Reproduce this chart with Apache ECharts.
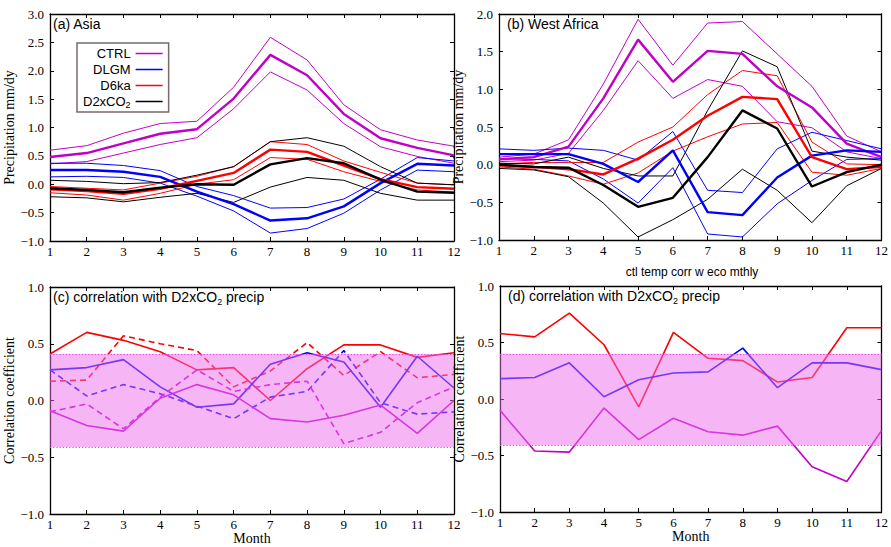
<!DOCTYPE html>
<html>
<head>
<meta charset="utf-8">
<script src="https://cdn.jsdelivr.net/npm/echarts@6/dist/echarts.min.js"></script>
<style>html,body{margin:0;padding:0;background:#fff;}#c{width:891px;height:547px;}</style>
</head>
<body>
<div id="c"></div>
<script>
const months = ['1','2','3','4','5','6','7','8','9','10','11','12'];

// (a) Asia
const asiaCtrl   = [0.48, 0.55, 0.72, 0.89, 0.97, 1.51, 2.28, 1.92, 1.24, 0.81, 0.64, 0.51];
const asiaCtrlHi = [0.60, 0.68, 0.90, 1.07, 1.11, 1.71, 2.59, 2.19, 1.40, 0.96, 0.78, 0.67];
const asiaCtrlLo = [0.36, 0.40, 0.55, 0.70, 0.82, 1.33, 1.98, 1.66, 1.07, 0.66, 0.49, 0.37];
const asiaDlgm   = [0.25, 0.25, 0.22, 0.13, -0.13, -0.35, -0.64, -0.60, -0.39, 0.02, 0.36, 0.33];
const asiaDlgmHi = [0.37, 0.37, 0.33, 0.24, -0.04, -0.20, -0.42, -0.41, -0.26, 0.09, 0.47, 0.41];
const asiaDlgmLo = [0.13, 0.14, 0.12, 0.02, -0.21, -0.47, -0.86, -0.78, -0.51, -0.10, 0.25, 0.22];
const asiaD6ka   = [-0.09, -0.12, -0.17, -0.08, 0.06, 0.20, 0.61, 0.57, 0.33, 0.09, -0.05, -0.08];
const asiaD6kaHi = [-0.04, -0.07, -0.10, 0.02, 0.14, 0.31, 0.75, 0.70, 0.41, 0.21, 0.02, -0.01];
const asiaD6kaLo = [-0.15, -0.19, -0.28, -0.16, 0.00, 0.08, 0.47, 0.44, 0.22, 0.05, -0.10, -0.14];
const asiaCo2    = [-0.07, -0.10, -0.14, -0.06, 0.00, -0.01, 0.35, 0.46, 0.37, 0.08, -0.13, -0.15];
const asiaCo2Hi  = [0.07, 0.05, 0.01, 0.03, 0.16, 0.31, 0.75, 0.82, 0.67, 0.31, 0.02, -0.01];
const asiaCo2Lo  = [-0.22, -0.24, -0.31, -0.23, -0.16, -0.32, -0.05, 0.12, 0.07, -0.16, -0.28, -0.28];

// (b) West Africa
const waCtrl   = [0.07, 0.10, 0.24, 0.88, 1.66, 1.10, 1.51, 1.47, 1.04, 0.76, 0.28, 0.10];
const waCtrlHi = [0.10, 0.14, 0.33, 1.07, 1.93, 1.32, 1.88, 1.90, 1.47, 1.04, 0.38, 0.17];
const waCtrlLo = [0.04, 0.06, 0.15, 0.72, 1.38, 0.88, 1.13, 1.04, 0.57, 0.49, 0.17, 0.08];
const waDlgm   = [0.14, 0.14, 0.14, 0.01, -0.23, 0.19, -0.63, -0.67, -0.17, 0.12, 0.19, 0.17];
const waDlgmHi = [0.21, 0.19, 0.22, 0.19, 0.06, 0.44, -0.34, -0.37, 0.21, 0.43, 0.32, 0.21];
const waDlgmLo = [0.08, 0.07, 0.05, -0.19, -0.51, -0.04, -0.92, -0.96, -0.52, -0.21, 0.07, 0.08];
const waD6ka   = [-0.01, -0.03, -0.06, -0.13, 0.08, 0.33, 0.65, 0.90, 0.87, 0.10, -0.06, -0.03];
const waD6kaHi = [0.01, 0.03, 0.03, 0.03, 0.30, 0.50, 0.93, 1.25, 1.18, 0.30, 0.01, 0.00];
const waD6kaLo = [-0.03, -0.06, -0.15, -0.26, -0.11, 0.18, 0.37, 0.54, 0.56, -0.10, -0.14, -0.05];
const waCo2    = [0.00, -0.03, -0.04, -0.27, -0.56, -0.44, 0.10, 0.72, 0.48, -0.29, -0.10, 0.00];
const waCo2Hi  = [0.02, 0.01, 0.10, -0.05, -0.15, -0.15, 0.72, 1.51, 1.30, 0.18, 0.10, 0.06];
const waCo2Lo  = [-0.05, -0.07, -0.16, -0.51, -0.96, -0.73, -0.46, -0.06, -0.34, -0.77, -0.28, -0.05];

// (c) correlation, Asia
const corrAsiaRed      = [0.41, 0.60, 0.53, 0.43, 0.27, 0.29, 0.00, 0.28, 0.49, 0.49, 0.38, 0.42];
const corrAsiaRedDash  = [0.17, 0.18, 0.57, 0.50, 0.44, 0.12, 0.26, 0.51, 0.22, 0.43, 0.20, 0.23];
const corrAsiaBlue     = [0.27, 0.29, 0.36, 0.12, -0.06, -0.03, 0.32, 0.42, 0.34, -0.06, 0.39, 0.11];
const corrAsiaBlueDash = [0.27, 0.04, 0.14, 0.06, -0.05, -0.16, 0.03, 0.08, 0.44, -0.02, -0.12, -0.10];
const corrAsiaMag      = [-0.09, -0.22, -0.27, 0.02, 0.14, 0.05, -0.16, -0.19, -0.13, -0.04, -0.29, 0.00];
const corrAsiaMagDash  = [-0.10, -0.03, -0.25, 0.03, 0.27, 0.08, 0.14, 0.17, -0.38, -0.28, -0.02, 0.12];

// (d) correlation, West Africa
const corrWaRed  = [0.58, 0.55, 0.76, 0.48, -0.07, 0.59, 0.36, 0.34, 0.15, 0.19, 0.63, 0.63];
const corrWaBlue = [0.18, 0.19, 0.32, 0.02, 0.17, 0.23, 0.24, 0.45, 0.10, 0.32, 0.32, 0.26];
const corrWaMag  = [-0.10, -0.46, -0.47, -0.08, -0.36, -0.17, -0.29, -0.32, -0.24, -0.60, -0.73, -0.28];

const bandC = [-0.41, 0.41];
const bandD = [-0.41, 0.40];

const yTicksA = [-1, 3, 0.5];
const yTicksB = [-1, 2, 0.5];
const yTicksC = [-1, 1, 0.5];

const MAG = '#c000c8', BLUE = '#0000ff', RED = '#ff0000', BLACK = '#000000';
const SERIF = 'Liberation Serif';
const SANS = 'Liberation Sans';

const grids = [
  {left: 50, right: 437, top: 14, bottom: 306},
  {left: 499, right: 3, top: 14, bottom: 307},
  {left: 50, right: 437, top: 287, bottom: 33},
  {left: 500, right: 3, top: 286, bottom: 35}
];

const fmtY = v => v.toFixed(1).replace('-', '\u2212');
const axisLine = {show: true, onZero: false, lineStyle: {color: '#000', width: 1.3}};
const tick = {show: true, inside: true, length: 4, lineStyle: {color: '#000', width: 1}};

const xAxes = [], yAxes = [];
const yRanges = [yTicksA, yTicksB, yTicksC, yTicksC];
const yNames = ['Precipitation mm/dy', 'Precipitation mm/dy', 'Correlation coefficient', 'Correlation coefficient'];
const yNameGaps = [26, 28, 26, 27];
grids.forEach((g, i) => {
  xAxes.push({
    type: 'category', gridIndex: i, data: months, boundaryGap: false, position: 'bottom',
    axisLine, axisTick: Object.assign({alignWithLabel: true}, tick), splitLine: {show: false},
    axisLabel: {fontFamily: SERIF, fontSize: 13, color: '#000', margin: 4},
    name: i >= 2 ? 'Month' : '', nameLocation: 'middle', nameGap: 17,
    nameTextStyle: {fontFamily: SERIF, fontSize: 14, color: '#000'}
  });
  xAxes.push({
    type: 'category', gridIndex: i, data: months, boundaryGap: false, position: 'top',
    axisLine, axisTick: tick, axisLabel: {show: false}, splitLine: {show: false}
  });
  const r = yRanges[i];
  yAxes.push({
    type: 'value', gridIndex: i, min: r[0], max: r[1], interval: r[2], position: 'left',
    axisLine, axisTick: tick, splitLine: {show: false},
    axisLabel: {fontFamily: SERIF, fontSize: 13, color: '#000', margin: 6, formatter: fmtY},
    name: yNames[i], nameLocation: 'middle', nameRotate: 90, nameGap: yNameGaps[i],
    nameTextStyle: {fontFamily: SERIF, fontSize: 14, color: '#000'}
  });
  yAxes.push({
    type: 'value', gridIndex: i, min: r[0], max: r[1], interval: r[2], position: 'right',
    axisLine, axisTick: tick, splitLine: {show: false}, axisLabel: {show: false}
  });
});

function line(g, name, data, color, width, dashed, z) {
  return {
    type: 'line', name, data, xAxisIndex: 2 * g, yAxisIndex: 2 * g,
    symbol: 'none', silent: true, animation: false, z: z || 2,
    lineStyle: {color, width, type: dashed ? [6, 4] : 'solid'},
    itemStyle: {color}
  };
}

function band(g, b) {
  return {
    type: 'line', data: [], xAxisIndex: 2 * g, yAxisIndex: 2 * g, silent: true, z: 10,
    animation: false,
    markArea: {silent: true, z: 10, itemStyle: {color: 'rgba(238,110,238,0.5)'},
      data: [[{yAxis: b[0]}, {yAxis: b[1]}]]},
    markLine: {silent: true, z: 11, symbol: 'none', label: {show: false},
      lineStyle: {color: '#e040e0', width: 1.2, type: [1.2, 2]},
      data: [{yAxis: b[0]}, {yAxis: b[1]}]}
  };
}

const series = [
  // (a)
  line(0, 'CTRL hi', asiaCtrlHi, MAG, 1), line(0, 'CTRL lo', asiaCtrlLo, MAG, 1),
  line(0, 'DLGM hi', asiaDlgmHi, BLUE, 1), line(0, 'DLGM lo', asiaDlgmLo, BLUE, 1),
  line(0, 'D6ka hi', asiaD6kaHi, RED, 1), line(0, 'D6ka lo', asiaD6kaLo, RED, 1),
  line(0, 'D2xCO2 hi', asiaCo2Hi, BLACK, 1), line(0, 'D2xCO2 lo', asiaCo2Lo, BLACK, 1),
  line(0, 'CTRL', asiaCtrl, MAG, 2.4, false, 3), line(0, 'DLGM', asiaDlgm, BLUE, 2.4, false, 3),
  line(0, 'D6ka', asiaD6ka, RED, 2.4, false, 3), line(0, 'D2xCO2', asiaCo2, BLACK, 2.4, false, 3),
  // (b)
  line(1, 'b CTRL hi', waCtrlHi, MAG, 1), line(1, 'b CTRL lo', waCtrlLo, MAG, 1),
  line(1, 'b DLGM hi', waDlgmHi, BLUE, 1), line(1, 'b DLGM lo', waDlgmLo, BLUE, 1),
  line(1, 'b D6ka hi', waD6kaHi, RED, 1), line(1, 'b D6ka lo', waD6kaLo, RED, 1),
  line(1, 'b D2xCO2 hi', waCo2Hi, BLACK, 1), line(1, 'b D2xCO2 lo', waCo2Lo, BLACK, 1),
  line(1, 'b CTRL', waCtrl, MAG, 2.4, false, 3), line(1, 'b DLGM', waDlgm, BLUE, 2.4, false, 3),
  line(1, 'b D6ka', waD6ka, RED, 2.4, false, 3), line(1, 'b D2xCO2', waCo2, BLACK, 2.4, false, 3),
  // (c)
  line(2, 'c red', corrAsiaRed, RED, 1.6), line(2, 'c red dash', corrAsiaRedDash, RED, 1.6, true),
  line(2, 'c blue', corrAsiaBlue, BLUE, 1.6), line(2, 'c blue dash', corrAsiaBlueDash, BLUE, 1.6, true),
  line(2, 'c mag', corrAsiaMag, MAG, 1.6), line(2, 'c mag dash', corrAsiaMagDash, MAG, 1.6, true),
  band(2, bandC),
  // (d)
  line(3, 'd red', corrWaRed, RED, 1.6), line(3, 'd blue', corrWaBlue, BLUE, 1.6),
  line(3, 'd mag', corrWaMag, MAG, 1.6),
  band(3, bandD)
];

const subRich = {
  sub: {fontFamily: SANS, fontSize: 9, verticalAlign: 'bottom', lineHeight: 10}
};

const titleStyle = {fontFamily: SANS, fontSize: 14, fontWeight: 'normal', color: '#000', lineHeight: 18, rich: subRich};

const chart = echarts.init(document.getElementById('c'), null, {renderer: 'svg', width: 891, height: 547});
chart.setOption({
  animation: false,
  backgroundColor: '#fff',
  grid: grids,
  xAxis: xAxes,
  yAxis: yAxes,
  title: [
    {text: '(a) Asia', left: 53, top: 15, padding: 0, textStyle: titleStyle},
    {text: '(b) West Africa', left: 507, top: 15, padding: 0, textStyle: titleStyle},
    {text: '(c) correlation with D2xCO{sub|2} precip', left: 53, top: 288, padding: 0, textStyle: titleStyle},
    {text: '(d) correlation with D2xCO{sub|2} precip', left: 508, top: 287, padding: 0, textStyle: titleStyle},
    {text: 'ctl temp corr w eco mthly', left: 692, textAlign: 'center', top: 266, padding: 0,
      textStyle: {fontFamily: SANS, fontSize: 12, fontWeight: 'normal', color: '#000'}}
  ],
  legend: {
    data: ['CTRL', 'DLGM', 'D6ka', 'D2xCO2'],
    orient: 'vertical', left: 77, top: 43, align: 'right',
    icon: 'rect', itemWidth: 27, itemHeight: 1.5, itemGap: 1,
    selectedMode: false,
    borderColor: '#7a6868', borderWidth: 1.5, borderRadius: 0,
    padding: [3, 6, 3, 6], backgroundColor: '#fff',
    formatter: n => n === 'D2xCO2' ? 'D2xCO{sub|2}' : n,
    textStyle: {fontFamily: SANS, fontSize: 13, color: '#000', width: 46, align: 'right', lineHeight: 15, rich: subRich}
  },
  series
});
</script>
</body>
</html>
